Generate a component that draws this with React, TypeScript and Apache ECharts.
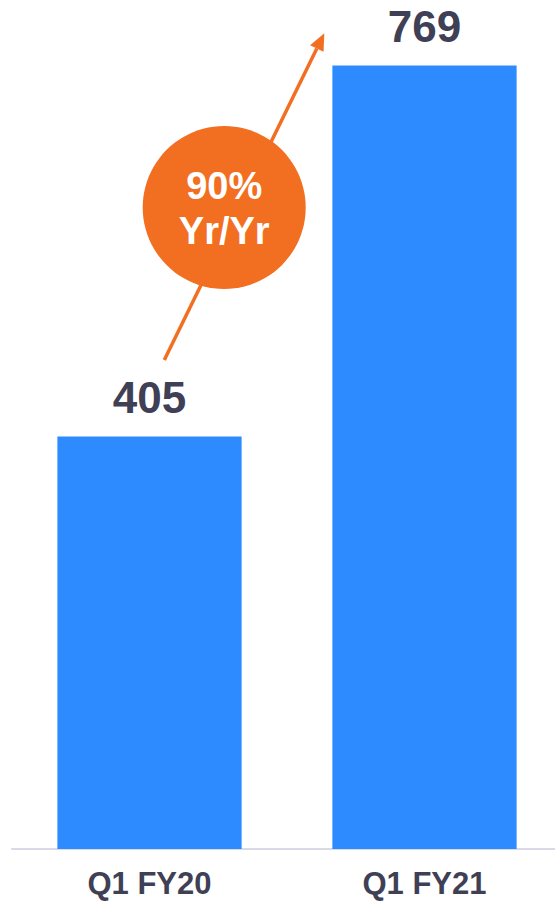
import React, { useEffect, useRef } from "react";
import * as echarts from "echarts";

const categories = ["Q1 FY20", "Q1 FY21"];
const revenue = [405, 769];
const growthLabel = ["90%", "Yr/Yr"];

const FONT = "Arial, 'Liberation Sans', Helvetica, sans-serif";
const TEXT_COLOR = "#3f3f55";
const BAR_COLOR = "#2e8bff";
const ORANGE = "#f26f22";

export default function App() {
  const ref = useRef<HTMLDivElement>(null);
  useEffect(() => {
    if (!ref.current) return;
    const chart = echarts.init(ref.current, null, { renderer: "svg" });
    // arrow geometry
    const start = [164.3, 360];
    const tip = [324.3, 33.3];
    const dx = tip[0] - start[0];
    const dy = tip[1] - start[1];
    const len = Math.sqrt(dx * dx + dy * dy);
    const ux = dx / len;
    const uy = dy / len;
    const headLen = 17;
    const headHalf = 7.5;
    const bx = tip[0] - ux * headLen;
    const by = tip[1] - uy * headLen;
    const px = -uy;
    const py = ux;
    chart.setOption({
      animation: false,
      grid: { left: 12, right: 0, top: 34, bottom: 53, containLabel: false },
      xAxis: {
        type: "category",
        data: categories,
        axisLine: { show: true, lineStyle: { color: "#d9d9e8", width: 2 } },
        axisTick: { show: false },
        axisLabel: {
          color: TEXT_COLOR,
          fontFamily: FONT,
          fontWeight: "bold",
          fontSize: 31,
          margin: 19,
        },
      },
      yAxis: {
        type: "value",
        min: 0,
        max: 800,
        show: false,
        splitLine: { show: false },
      },
      series: [
        {
          type: "bar",
          data: revenue,
          barWidth: "67%",
          itemStyle: { color: BAR_COLOR },
          label: {
            show: true,
            position: "top",
            distance: 17,
            color: TEXT_COLOR,
            fontFamily: FONT,
            fontWeight: "bold",
            fontSize: 44,
          },
        },
      ],
      graphic: [
        {
          type: "line",
          shape: { x1: start[0], y1: start[1], x2: bx, y2: by },
          style: { stroke: ORANGE, lineWidth: 3.5 },
          z: 10,
        },
        {
          type: "polygon",
          shape: {
            points: [
              [tip[0], tip[1]],
              [bx + px * headHalf, by + py * headHalf],
              [bx - px * headHalf, by - py * headHalf],
            ],
          },
          style: { fill: ORANGE },
          z: 10,
        },
        {
          type: "circle",
          shape: { cx: 224.2, cy: 207.5, r: 81.5 },
          style: { fill: ORANGE },
          z: 11,
        },
        {
          type: "text",
          x: 224.2,
          y: 208,
          style: {
            text: growthLabel.join("\n"),
            fill: "#ffffff",
            font: `bold 38px ${FONT}`,
            lineHeight: 45,
            align: "center",
            verticalAlign: "middle",
          },
          z: 12,
        },
      ],
    });
    return () => chart.dispose();
  }, []);
  return (
    <div style={{ position: "absolute", left: 0, top: 0, width: 555, height: 902, overflow: "hidden" }}>
      <div ref={ref} style={{ width: 562, height: 902 }} />
    </div>
  );
}
